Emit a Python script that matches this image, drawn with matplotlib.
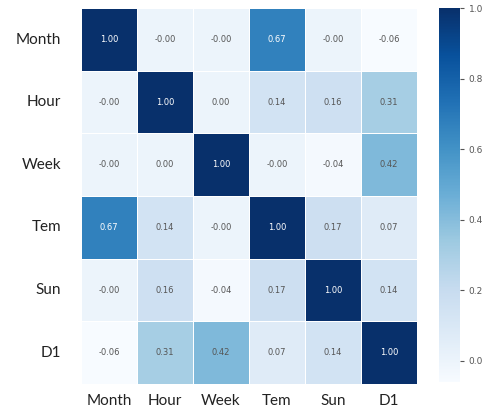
import numpy as np
import matplotlib
matplotlib.use("Agg")
import matplotlib.pyplot as plt
import seaborn as sns

labels = ["Month", "Hour", "Week", "Tem", "Sun", "D1"]
# correlation values (tiny negatives so they print as -0.00)
month = [1.00, -0.001, -0.001, 0.67, -0.001, -0.06]
hour = [-0.001, 1.00, 0.001, 0.14, 0.16, 0.31]
week = [-0.001, 0.001, 1.00, -0.001, -0.04, 0.42]
tem = [0.67, 0.14, -0.001, 1.00, 0.17, 0.07]
sun = [-0.001, 0.16, -0.04, 0.17, 1.00, 0.14]
d1 = [-0.06, 0.31, 0.42, 0.07, 0.14, 1.00]
corr = np.array([month, hour, week, tem, sun, d1])

fig = plt.figure(figsize=(4.84, 4.09), dpi=100)
ax = fig.add_axes([0.167, 0.061, 0.695, 0.919])
cax = fig.add_axes([0.907, 0.066, 0.043, 0.914])

sns.heatmap(corr, ax=ax, cbar_ax=cax, cmap="Blues", annot=True, fmt=".2f",
            vmin=-0.06, vmax=1.0, linewidths=0.5, linecolor="white",
            xticklabels=labels, yticklabels=labels,
            annot_kws={"fontsize": 6})

# soften the annotation colour on light cells
for t in ax.texts:
    if t.get_color() not in ("w", "white", "#ffffff", (1, 1, 1, 1)):
        if float(t.get_text()) < 0.6:
            t.set_color("#555555")

ax.tick_params(axis="x", length=0, labelsize=11, pad=7)
ax.tick_params(axis="y", length=0, labelsize=11, pad=14)
ax.set_yticklabels(labels, rotation=0, fontfamily="Lato", color="#222222")
ax.set_xticklabels(labels, rotation=0, fontfamily="Lato", color="#222222")

cax.set_yticks([0.0, 0.2, 0.4, 0.6, 0.8, 1.0])
cax.tick_params(labelsize=6.5, length=3, colors="#555555")
for s in cax.spines.values():
    s.set_visible(False)

fig.savefig("out.png", dpi=100)
